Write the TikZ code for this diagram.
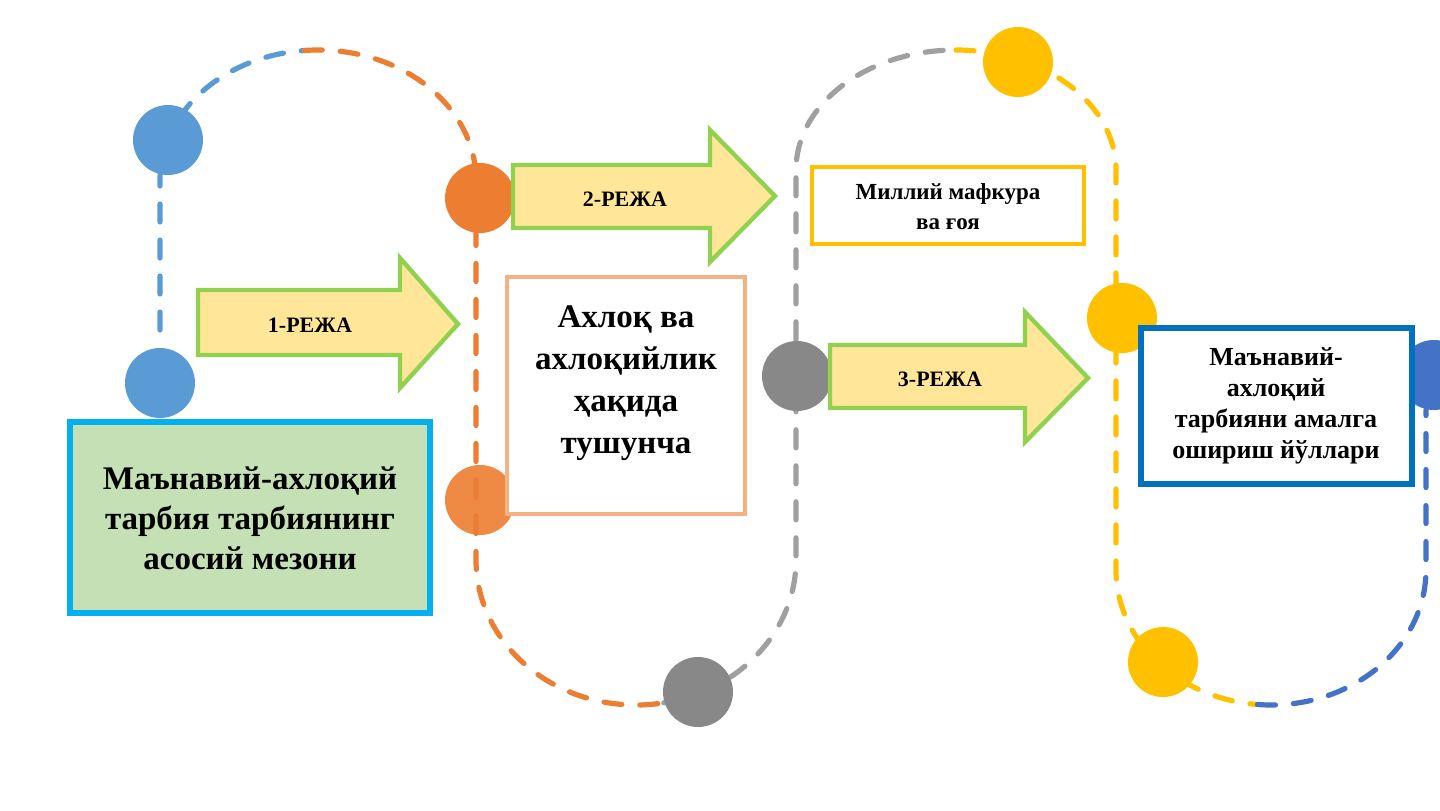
\documentclass[tikz,border=0pt]{standalone}
\usepackage{fontspec}
\setmainfont{Liberation Serif}
\begin{document}
\begin{tikzpicture}[x=0.5pt,y=0.5pt,
 dl/.style={line width=2.6pt,dash pattern=on 9pt off 9pt,line cap=round},
 dot/.style={circle,minimum size=35pt,inner sep=0pt},
 arr/.style={draw=cgreen,fill=cyell,line width=2.2pt,line join=miter},
 lab/.style={font=\bfseries\fontsize{11}{13}\selectfont}]
\definecolor{cblue}{HTML}{5B9BD5}\definecolor{corange}{HTML}{ED7D31}
\definecolor{cgray}{HTML}{A0A0A0}\definecolor{cyel}{HTML}{FFC000}
\definecolor{cdblue}{HTML}{4472C4}\definecolor{cgreen}{HTML}{92D050}
\definecolor{cyell}{HTML}{FFE699}\definecolor{boxblue}{HTML}{0070C0}
\definecolor{boxcyan}{HTML}{00B0F0}\definecolor{boxgreen}{HTML}{C5E0B4}
\definecolor{boxor}{HTML}{F4B183}
\useasboundingbox (0,0) rectangle (1440,810);
% loops
\draw[dl,cblue] (160,480) -- (160,630) arc[start angle=180,end angle=95,x radius=79pt,y radius=65pt];
\draw[dl,corange] (318,630) ++(95:79pt and 65pt) arc[start angle=95,end angle=0,x radius=79pt,y radius=65pt] -- (476,250) arc[start angle=180,end angle=280,x radius=80pt,y radius=72.5pt];
\draw[dl,cgray] (636,250) ++(280:80pt and 72.5pt) arc[start angle=280,end angle=360,x radius=80pt,y radius=72.5pt] -- (796,640) arc[start angle=180,end angle=90,x radius=80pt,y radius=60pt];
\draw[dl,cyel] (956,760) arc[start angle=90,end angle=0,x radius=80pt,y radius=60pt] -- (1116,240) arc[start angle=180,end angle=265,x radius=77.5pt,y radius=67.5pt];
\draw[dl,cdblue] (1271,240) ++(265:77.5pt and 67.5pt) arc[start angle=265,end angle=360,x radius=77.5pt,y radius=67.5pt] -- (1426,400);
% dots
\node[dot,fill=cblue] (b1) at (168,670) {};
\node[dot,fill=cblue] (b2) at (160,427) {};
\node[dot,fill=corange] (o1) at (480,612) {};
\node[dot,fill=corange,opacity=.9] (o2) at (480,310) {};
\node[dot,fill=cgray!85!black] (g1) at (797,434) {};
\node[dot,fill=cgray!85!black] (g2) at (698,118) {};
\node[dot,fill=cyel] (y1) at (1018,748) {};
\node[dot,fill=cyel] (y2) at (1122,492) {};
\node[dot,fill=cyel] (y3) at (1163,148) {};
\node[dot,fill=cdblue] (d1) at (1434,435) {};
% arrows
\draw[arr] (198,520)--(400,520)--(400,552)--(458,486)--(400,422)--(400,455)--(198,455)--cycle;
\node[lab] (a1) at (310,485) {1-РЕЖА};
\draw[arr] (513,645)--(710,645)--(710,680)--(775,614)--(710,548)--(710,582)--(513,582)--cycle;
\node[lab] (a2) at (625,611) {2-РЕЖА};
\draw[arr] (830,465)--(1025,465)--(1025,498)--(1088,432)--(1025,368)--(1025,402)--(830,402)--cycle;
\node[lab] (a3) at (940,431) {3-РЕЖА};
% boxes
\draw[fill=white,draw=cyel,line width=2.4pt] (812,643) rectangle (1084,566);
\node[font=\bfseries\fontsize{11.5}{15}\selectfont,align=center] (t1) at (948,603) {Миллий мафкура\\ва ғоя};
\draw[fill=white,draw=boxor,line width=2.4pt] (507,533) rectangle (745,296);
\node[font=\bfseries\fontsize{16.5}{21}\selectfont,align=center] (t2) at (626,427) {Ахлоқ ва\\ахлоқийлик\\ҳақида\\тушунча};
\draw[fill=white,draw=boxblue,line width=2.6pt] (1141,482) rectangle (1412,326);
\node[font=\bfseries\fontsize{13}{15.5}\selectfont,align=center] (t3) at (1276,404) {Маънавий-\\ахлоқий\\тарбияни амалга\\ошириш йўллари};
\draw[fill=boxgreen,draw=boxcyan,line width=2.8pt] (70,388) rectangle (430,197);
\node[font=\bfseries\fontsize{16.5}{20}\selectfont,align=center] (t4) at (250,292) {Маънавий-ахлоқий\\тарбия тарбиянинг\\асосий мезони};
\end{tikzpicture}
\end{document}
